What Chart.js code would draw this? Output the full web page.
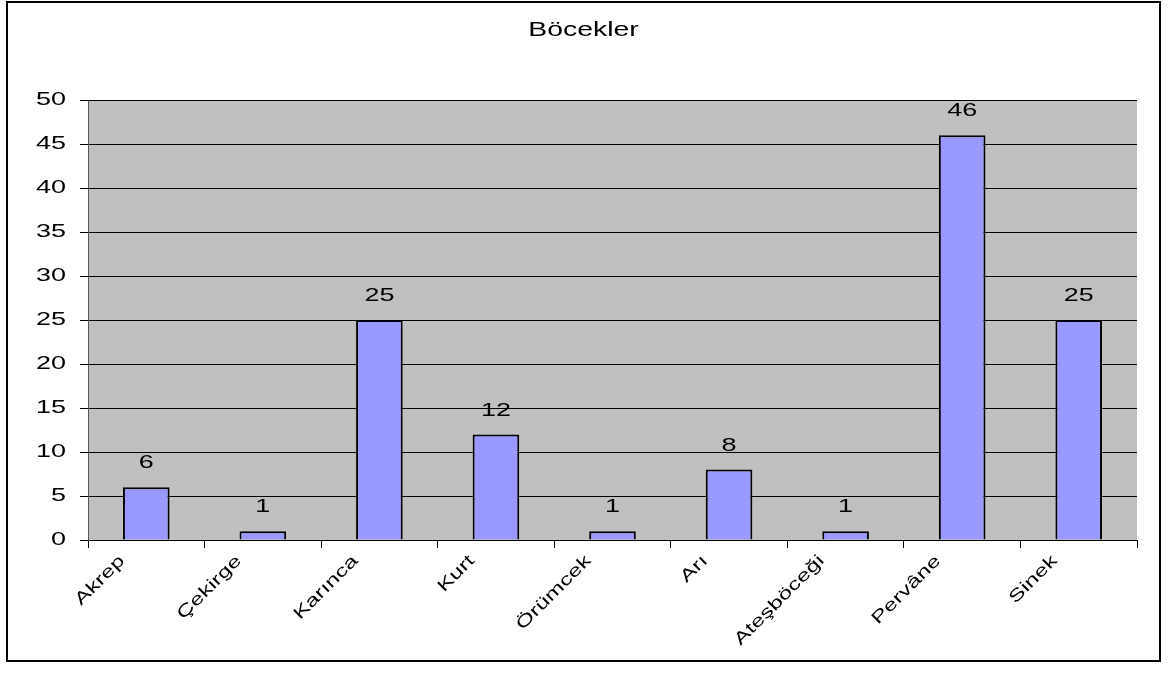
<!DOCTYPE html>
<html>
<head>
<meta charset="utf-8">
<script src="https://cdn.jsdelivr.net/npm/chart.js@4/dist/chart.umd.min.js"></script>
<style>
  body { margin: 0; background: #fff; }
  #box {
    position: absolute; left: 6px; top: 1px;
    width: 1155px; height: 661px;
    box-sizing: border-box; border: 2px solid #000;
  }
</style>
</head>
<body>
<div id="box"><canvas id="chart"></canvas></div>
<script>
var categories = ['Akrep', 'Çekirge', 'Karınca', 'Kurt', 'Örümcek', 'Arı', 'Ateşböceği', 'Pervâne', 'Sinek'];
var counts     = [6, 1, 25, 12, 1, 8, 1, 46, 25];
var chartTitle = 'Böcekler';

var fontFamily = '"Liberation Sans", Arial, sans-serif';
var textStretch = 1.42; // the original picture has horizontally stretched text

var canvas = document.getElementById('chart');
var c2d = canvas.getContext('2d');
var origFill = CanvasRenderingContext2D.prototype.fillText;
var origMeasure = CanvasRenderingContext2D.prototype.measureText;
c2d.fillText = function(text, x, y) {
    this.save();
    this.translate(x, y);
    this.scale(textStretch, 1);
    origFill.call(this, text, 0, 0);
    this.restore();
};
c2d.measureText = function(text) {
    var m = origMeasure.call(this, text);
    return {
        width: m.width * textStretch,
        actualBoundingBoxAscent: m.actualBoundingBoxAscent,
        actualBoundingBoxDescent: m.actualBoundingBoxDescent,
        actualBoundingBoxLeft: m.actualBoundingBoxLeft * textStretch,
        actualBoundingBoxRight: m.actualBoundingBoxRight * textStretch
    };
};

// gray plot background
var plotBg = {
    id: 'plotBg',
    beforeDraw: function(chart) {
        var a = chart.chartArea, ctx = chart.ctx;
        ctx.save();
        ctx.fillStyle = '#C0C0C0';
        ctx.fillRect(a.left, a.top, a.right - a.left, a.bottom - a.top);
        ctx.restore();
    }
};

// value labels above bars
var valueLabels = {
    id: 'valueLabels',
    afterDatasetsDraw: function(chart) {
        var ctx = chart.ctx;
        var meta = chart.getDatasetMeta(0);
        ctx.save();
        ctx.fillStyle = '#000';
        ctx.font = '19px ' + fontFamily;
        ctx.textAlign = 'center';
        ctx.textBaseline = 'middle';
        meta.data.forEach(function(bar, i) {
            ctx.fillText(String(counts[i]), bar.x, bar.y - 24);
        });
        ctx.restore();
    }
};

var chart = new Chart(canvas, {
    type: 'bar',
    data: {
        labels: categories,
        datasets: [{
            label: chartTitle,
            data: counts,
            backgroundColor: '#9999FF',
            borderColor: '#000',
            borderWidth: 2,
            barPercentage: 0.4,
            categoryPercentage: 1
        }]
    },
    options: {
        responsive: true,
        maintainAspectRatio: false,
        animation: false,
        layout: { padding: 0 },
        plugins: {
            legend: { display: false },
            tooltip: { enabled: false },
            title: {
                display: true,
                text: chartTitle,
                color: '#000',
                font: { family: fontFamily, size: 20, weight: 'normal' },
                padding: { top: 15, bottom: 58 }
            }
        },
        scales: {
            x: {
                afterFit: function(scale) { scale.height = 120; },
                grid: {
                    offset: true,
                    drawOnChartArea: false,
                    drawTicks: true,
                    tickLength: 8,
                    color: '#000'
                },
                border: { color: '#000', width: 1 },
                ticks: {
                    color: '#000',
                    minRotation: 45,
                    maxRotation: 45,
                    autoSkip: false,
                    labelOffset: -24,
                    font: { family: fontFamily, size: 17 }
                }
            },
            y: {
                min: 0,
                max: 50,
                afterFit: function(scale) { scale.width = 80; },
                grid: {
                    color: '#000',
                    lineWidth: 1,
                    tickLength: 8
                },
                border: { color: '#555', width: 1 },
                ticks: {
                    stepSize: 5,
                    color: '#000',
                    padding: 14,
                    font: { family: fontFamily, size: 19 }
                }
            },
            // empty right-hand margin so the title stays centred on the whole box
            yRight: {
                position: 'right',
                min: 0,
                max: 50,
                afterFit: function(scale) { scale.width = 22; },
                grid: { display: false },
                border: { display: false },
                ticks: { display: false }
            }
        }
    },
    plugins: [plotBg, valueLabels]
});
</script>
</body>
</html>
